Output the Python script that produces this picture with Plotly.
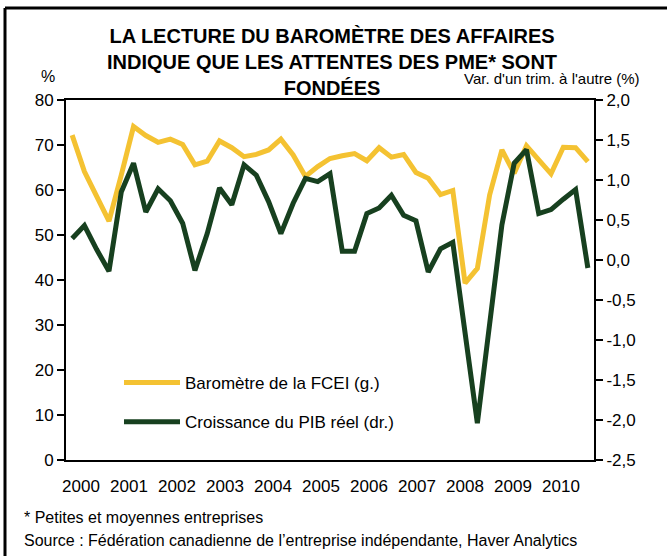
import plotly.graph_objects as go

# Quarterly data, 2000 T1 to 2010 T3
quarters = [f"{y} T{q}" for y in range(2000, 2011) for q in range(1, 5)][:43]
barometre = [72.2, 64.1, 58.6, 53.1, 63.3, 74.1, 72.1, 70.6, 71.3, 70.1, 65.6,
             66.4, 70.9, 69.4, 67.4, 67.9, 68.9, 71.3, 67.8, 63.0, 65.2, 67.0,
             67.6, 68.1, 66.5, 69.4, 67.3, 67.9, 63.9, 62.6, 59.0, 59.9, 39.3,
             42.6, 58.9, 68.9, 63.7, 69.8, 66.7, 63.6, 69.5, 69.4, 66.3]
pib = [0.27, 0.43, 0.13, -0.14, 0.85, 1.21, 0.60, 0.89, 0.74, 0.46, -0.13,
       0.33, 0.90, 0.69, 1.19, 1.06, 0.73, 0.33, 0.71, 1.02, 0.98, 1.08,
       0.11, 0.11, 0.58, 0.65, 0.81, 0.56, 0.49, -0.15, 0.14, 0.22, -0.91,
       -2.04, -0.80, 0.44, 1.21, 1.38, 0.58, 0.63, 0.76, 0.88, -0.10]
years = [str(y) for y in range(2000, 2011)]
left_ticks = [0, 10, 20, 30, 40, 50, 60, 70, 80]
right_ticks = [-2.5, -2.0, -1.5, -1.0, -0.5, 0.0, 0.5, 1.0, 1.5, 2.0]

x_pos = list(range(len(quarters)))
FONT = "Liberation Sans, Arial, sans-serif"
YELLOW = "#F4C232"
GREEN = "#17401F"

W, H = 667, 556
L, R, T, B = 66, 73, 100, 96
pw, ph = W - L - R, H - T - B
n = len(quarters)


def px(x):
    return (x - L) / pw


def py(y):
    return (H - B - y) / ph


# year labels sit slightly tighter than 4 quarters apart in the reference
year_px = [81 + 48 * k for k in range(len(years))]
year_tickvals = [(p - L) / (pw / n) - 0.5 for p in year_px]

fig = go.Figure()
fig.add_trace(go.Scatter(x=x_pos, y=barometre, mode="lines", name="Baromètre de la FCEI (g.)",
                         legendgroup="a",
                         line=dict(color=YELLOW, width=5), text=quarters,
                         hovertemplate="%{text}: %{y}<extra></extra>"))
fig.add_trace(go.Scatter(x=x_pos, y=pib, mode="lines", name="Croissance du PIB réel (dr.)",
                         legendgroup="b",
                         line=dict(color=GREEN, width=5), yaxis="y2", text=quarters,
                         hovertemplate="%{text}: %{y}<extra></extra>"))

fig.update_layout(
    width=W, height=H,
    margin=dict(l=L, r=R, t=T, b=B),
    paper_bgcolor="white", plot_bgcolor="white",
    font=dict(family=FONT, size=17, color="black"),
    showlegend=True,
    legend=dict(x=px(119), y=py(365), xanchor="left", yanchor="top",
                bgcolor="rgba(0,0,0,0)", font=dict(size=17), tracegroupgap=14,
                itemwidth=56),
    xaxis=dict(range=[-0.5, n - 0.5],
               tickvals=year_tickvals, ticktext=years,
               showgrid=False, zeroline=False, showline=True, linecolor="black",
               linewidth=2, mirror=True, ticks="", ticklabelstandoff=10,
               tickfont=dict(size=17)),
    yaxis=dict(range=[0, 80], tickvals=left_ticks, ticktext=[str(v) for v in left_ticks],
               showgrid=False, zeroline=False, showline=True, linecolor="black",
               linewidth=2, ticks="outside", ticklen=7, tickwidth=2, tickcolor="black",
               tickfont=dict(size=17)),
    yaxis2=dict(range=[-2.5, 2.0], overlaying="y", side="right",
                tickvals=right_ticks,
                ticktext=[f"{v:.1f}".replace(".", ",") for v in right_ticks],
                showgrid=False, zeroline=False, showline=True, linecolor="black",
                linewidth=2, ticks="outside", ticklen=7, tickwidth=2, tickcolor="black",
                tickfont=dict(size=17)),
)

texts = [
    ("<b>LA LECTURE DU BAROMÈTRE DES AFFAIRES<br>INDIQUE QUE LES ATTENTES DES PME* SONT<br>FONDÉES</b>",
     332, 62, "center", 20),
    ("%", 48, 76, "center", 16),
    ("Var. d'un trim. à l'autre (%)", 642, 78, "right", 15),
    ("* Petites et moyennes entreprises", 22, 517, "left", 16),
    ("Source : Fédération canadienne de l’entreprise indépendante, Haver Analytics", 22, 540, "left", 16),
]
fig.update_layout(annotations=[
    dict(text=t, xref="paper", yref="paper", x=px(x), y=py(y), xanchor=xa,
         yanchor="middle", showarrow=False, font=dict(size=s))
    for t, x, y, xa, s in texts
])

# outer frame (top and left edges visible in the reference)
fig.add_shape(type="line", xref="paper", yref="paper",
              x0=px(5), x1=px(W + 5), y0=py(8), y1=py(8),
              line=dict(color="black", width=3))
fig.add_shape(type="line", xref="paper", yref="paper",
              x0=px(5), x1=px(5), y0=py(8), y1=py(H + 5),
              line=dict(color="black", width=3))

fig.write_html("out.html", config={"displayModeBar": False},
               post_script="document.body.style.margin='0';")
